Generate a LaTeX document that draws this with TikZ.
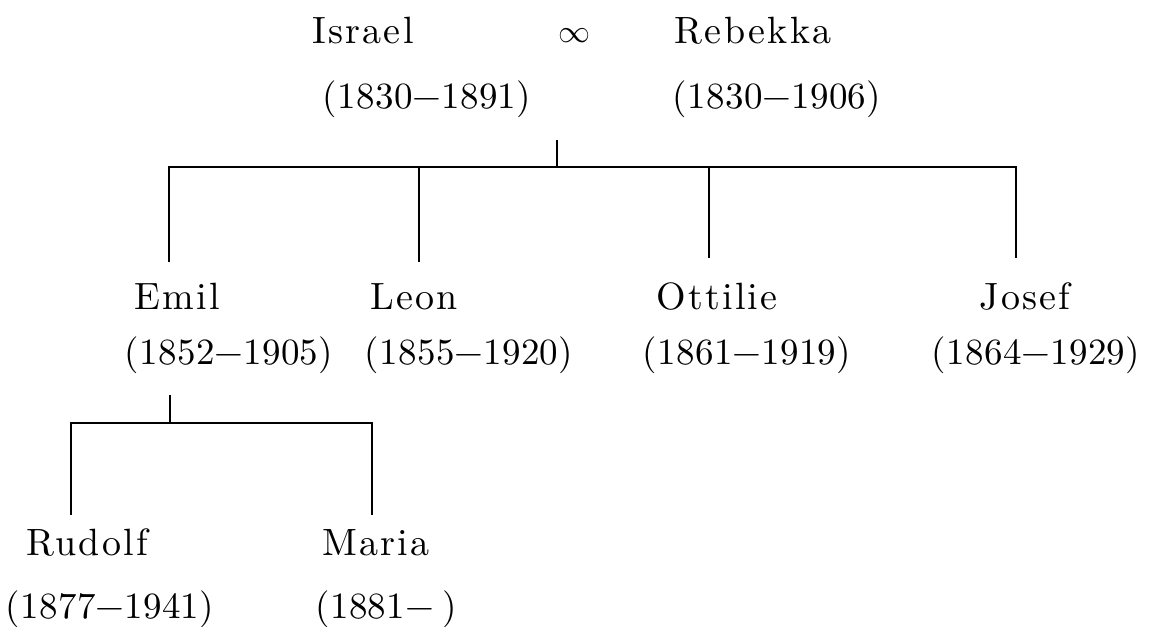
\documentclass[tikz,border=0pt]{standalone}
\usepackage{unicode-math}
\newfontfamily\namefont{lmroman10-regular.otf}[LetterSpace=6]
\newfontfamily\datefont{lmroman10-regular.otf}[LetterSpace=1]
\begin{document}
\begin{tikzpicture}[x=1pt,y=-1pt,
  person/.style={font=\namefont\fontsize{38}{46}\selectfont, inner sep=0pt, anchor=base},
  marriage/.style={font=\fontsize{32}{40}\selectfont, inner sep=0pt, anchor=base},
  years/.style={font=\datefont\fontsize{37}{44}\selectfont, inner sep=0pt, anchor=base},
  tree/.style={line width=1.5pt}]
\useasboundingbox (0,0) rectangle (1158,626);
% generation 1
\node[person] (israel) at (363,44) {Israel};
\node[marriage] (marr) at (574,42) {$\infty$};
\node[person] (rebekka) at (753,44) {Rebekka};
\node[years] (israelY) at (427,108) {(1830$-$1891)};
\node[years] (rebekkaY) at (777,108) {(1830$-$1906)};
% generation 2
\node[person] (emil) at (177,309) {Emil};
\node[person] (leon) at (414,309) {Leon};
\node[person] (ottilie) at (717,309) {Ottilie};
\node[person] (josef) at (1025,309) {Josef};
\node[years] (emilY) at (229,364) {(1852$-$1905)};
\node[years] (leonY) at (469,364) {(1855$-$1920)};
\node[years] (ottilieY) at (747,364) {(1861$-$1919)};
\node[years] (josefY) at (1036,364) {(1864$-$1929)};
% generation 3
\node[person] (rudolf) at (87,555) {Rudolf};
\node[person] (maria) at (376,555) {Maria};
\node[years] (rudolfY) at (110,618) {(1877$-$1941)};
\node[years] (mariaY) at (386,618) {(1881$-$\kern8pt)};
% connector points
\coordinate (top1) at (557,140);
\coordinate (bar1) at (557,167);
\coordinate (e1) at (169,167);
\coordinate (l1) at (419,167);
\coordinate (o1) at (709,167);
\coordinate (j1) at (1016,167);
\coordinate (e2) at (169,262);
\coordinate (l2) at (419,262);
\coordinate (o2) at (709,258);
\coordinate (j2) at (1016,258);
\coordinate (top2) at (170,395);
\coordinate (bar2) at (170,423);
\coordinate (r1) at (71,423);
\coordinate (m1) at (372,423);
\coordinate (r2) at (71,515);
\coordinate (m2) at (372,515);
% connectors
\draw[tree] (top1) -- (bar1);
\draw[tree] (e2) -- (e1) -- (j1) -- (j2);
\draw[tree] (l1) -- (l2);
\draw[tree] (o1) -- (o2);
\draw[tree] (top2) -- (bar2);
\draw[tree] (r2) -- (r1) -- (m1) -- (m2);
\end{tikzpicture}
\end{document}
